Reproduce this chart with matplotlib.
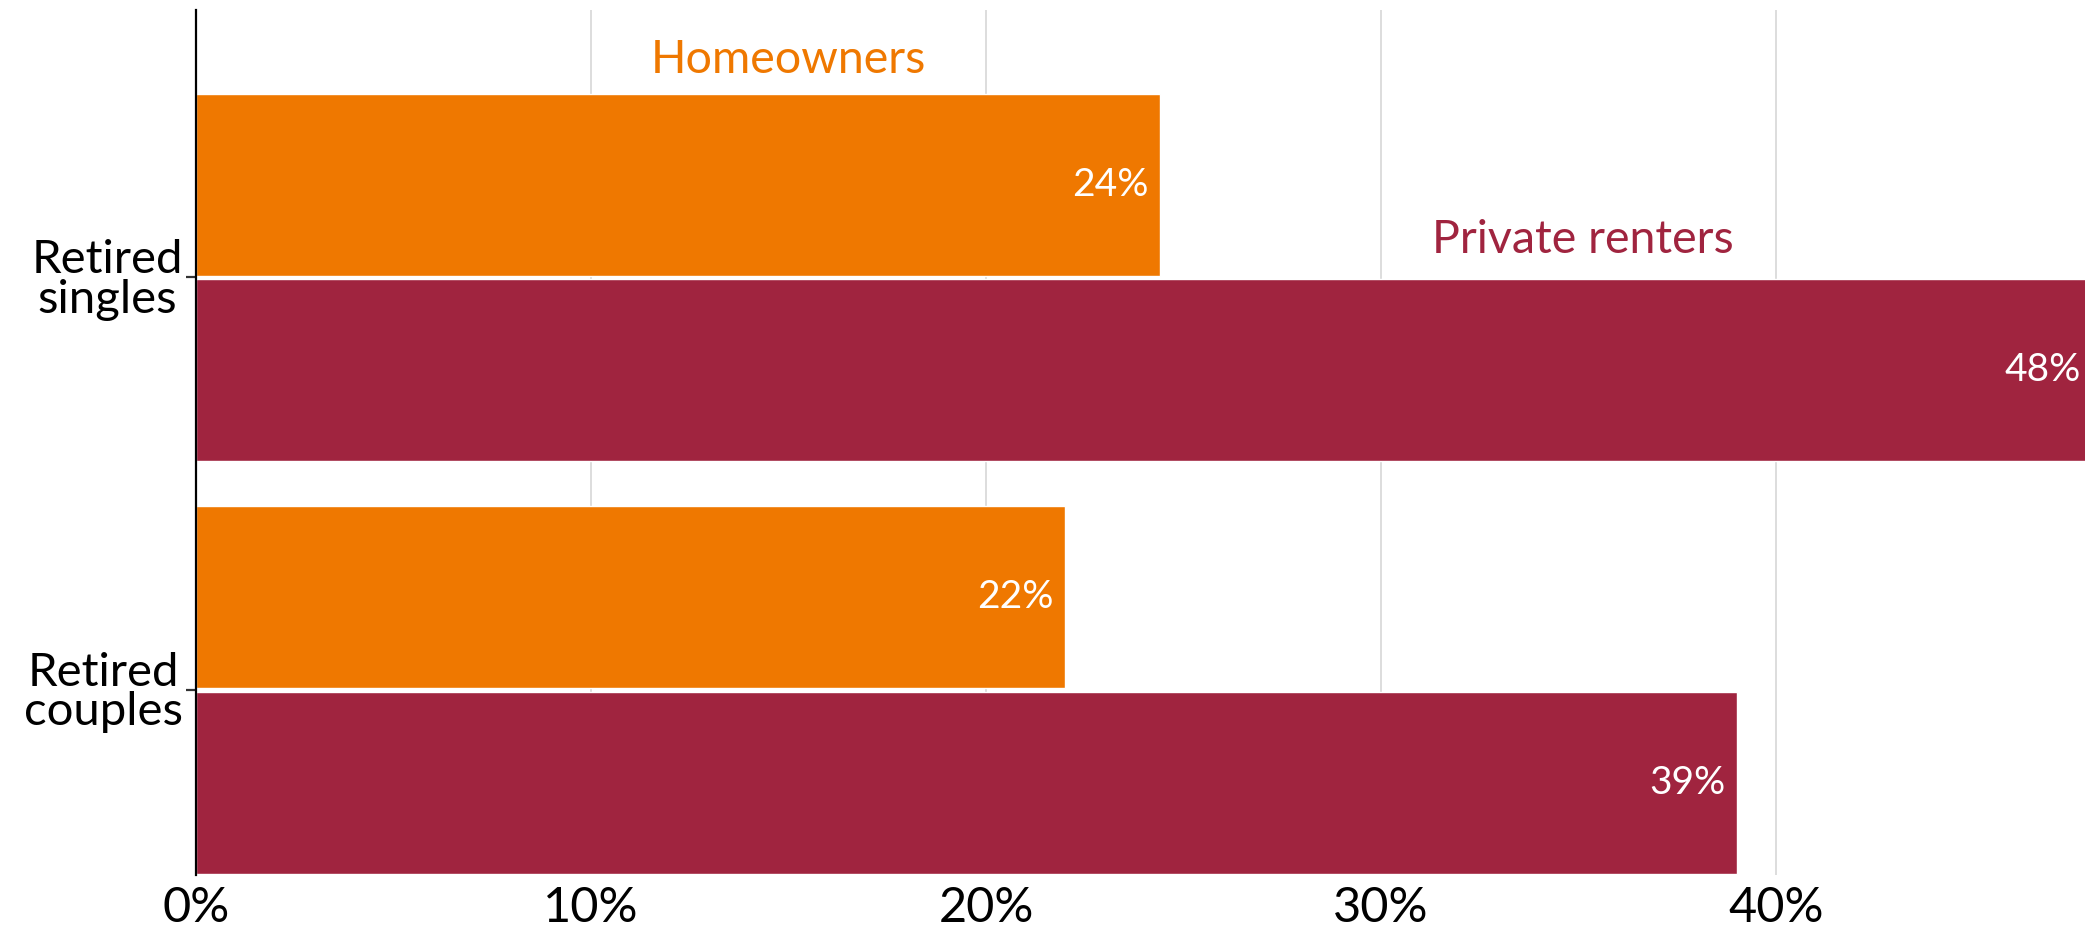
import matplotlib.pyplot as plt

# data
categories = ["Retired\nsingles", "Retired\ncouples"]
homeowners = [24.4, 22.0]
renters = [48.0, 39.0]
xticks = [0, 10, 20, 30, 40]

orange = "#EF7800"
red = "#A0243F"

plt.rcParams['font.family'] = ['Lato', 'DejaVu Sans']

fig = plt.figure(figsize=(10.425, 4.635), dpi=200)
ax = fig.add_axes([0.094, 0.0561, 0.906, 0.9331])

pos = list(range(len(categories)))
h = 0.441
off = 0.2245
ax.barh([p - off for p in pos], homeowners, height=h, color=orange,
        edgecolor="white", linewidth=0.5, zorder=2)
ax.barh([p + off for p in pos], renters, height=h, color=red,
        edgecolor="white", linewidth=0.5, zorder=2)

# value labels inside the bar ends
for p, v in zip(pos, homeowners):
    ax.annotate(f"{round(v)}%", (v, p - off), xytext=(-4, 0), textcoords="offset points",
                ha="right", va="center", color="white", fontsize=14, zorder=3)
for p, v in zip(pos, renters):
    ax.annotate(f"{round(v)}%", (v, p + off), xytext=(-4, 0), textcoords="offset points",
                ha="right", va="center", color="white", fontsize=14, zorder=3,
                annotation_clip=False)

# series labels
ax.text(15.0, -0.496, "Homeowners", color=orange, fontsize=16.8, ha="center", va="baseline")
ax.text(35.1, -0.059, "Private renters", color=red, fontsize=16.8, ha="center", va="baseline")

ax.set_xlim(0, 47.82)
ax.set_ylim(1.448, -0.648)

ax.set_xticks(xticks)
ax.set_xticklabels([f"{t}%" for t in xticks])
ax.set_yticks(pos)
ax.set_yticklabels(categories, multialignment="center", linespacing=0.92)

ax.tick_params(axis="x", length=0, pad=3.8, labelsize=17.5, colors="black")
ax.tick_params(axis="y", length=3.6, width=0.8, color="#333333", pad=1, labelsize=17)

for s in ["top", "right", "bottom"]:
    ax.spines[s].set_visible(False)
ax.spines["left"].set_linewidth(0.8)
ax.spines["left"].set_color("black")
ax.spines["left"].set_zorder(4)

ax.xaxis.grid(True, color="#dddddd", linewidth=0.7, zorder=0)
ax.set_axisbelow(True)

fig.savefig("out.png", dpi=200)
